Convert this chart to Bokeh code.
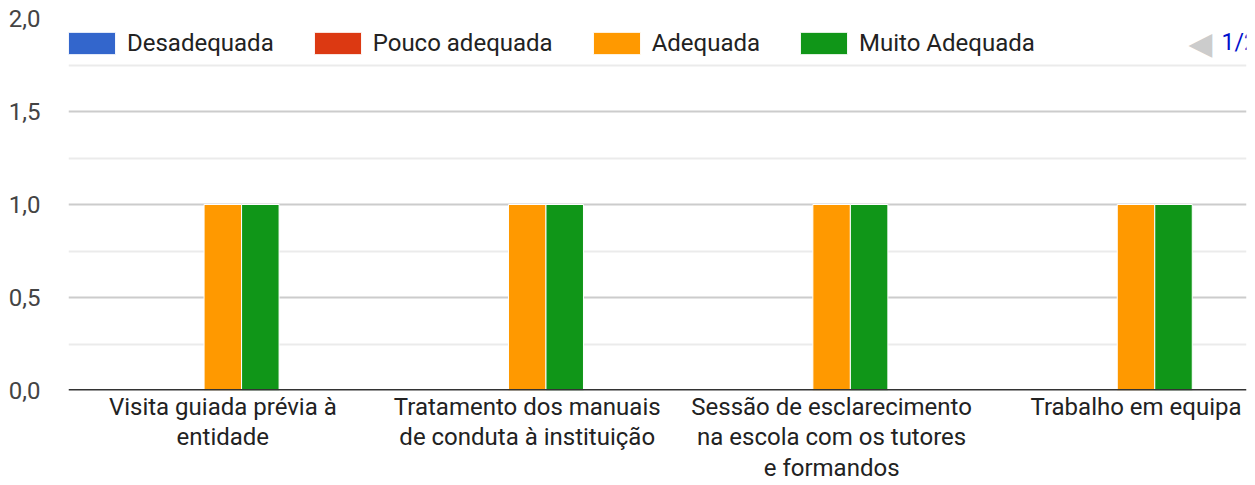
from bokeh.plotting import figure
from bokeh.models import (ColumnDataSource, Range1d, FixedTicker, Span, Legend,
                          LegendItem, Label)
from bokeh.transform import dodge
from bokeh.embed import file_html
from bokeh.resources import INLINE

# ---- data -------------------------------------------------------------
categories = [
    "Visita guiada prévia à\nentidade",
    "Tratamento dos manuais\nde conduta à instituição",
    "Sessão de esclarecimento\nna escola com os tutores\ne formandos",
    "Trabalho em equipa",
]
series_names = ["Desadequada", "Pouco adequada", "Adequada", "Muito Adequada"]
series_colors = ["#3366cc", "#dc3912", "#ff9900", "#109618"]
desadequada = [0, 0, 0, 0]
pouco_adequada = [0, 0, 0, 0]
adequada = [1, 1, 1, 1]
muito_adequada = [1, 1, 1, 1]
y_ticks = [0.0, 0.5, 1.0, 1.5, 2.0]
y_minor = [0.25, 0.75, 1.25, 1.75]

series_values = [desadequada, pouco_adequada, adequada, muito_adequada]

FONT = "Roboto"
n_slots = 5          # legend has a 2nd page: 5 bar slots per group
bar_w = 0.1232

src = ColumnDataSource(dict(
    x=list(range(len(categories))),
    **{f"s{i}": v for i, v in enumerate(series_values)}
))

p = figure(width=1255, height=485, output_backend="svg", toolbar_location=None,
           x_range=Range1d(-0.507, 3.363), y_range=Range1d(0, 2),
           min_border_left=68, min_border_right=9, min_border_top=18,
           min_border_bottom=95)
p.outline_line_color = None
p.background_fill_color = "white"

renderers = []
for i, (name, col) in enumerate(zip(series_names, series_colors)):
    off = (i - (n_slots - 1) / 2) * bar_w
    r = p.vbar(x=dodge("x", off, range=p.x_range), top=f"s{i}", width=bar_w,
               source=src, fill_color=col, line_color="white", line_width=1)
    renderers.append(r)

# y axis
p.yaxis.ticker = FixedTicker(ticks=y_ticks, minor_ticks=y_minor)
p.yaxis.major_label_overrides = {t: f"{t:.1f}".replace(".", ",") for t in y_ticks}
p.yaxis.axis_line_color = None
p.yaxis.major_tick_line_color = None
p.yaxis.minor_tick_line_color = None
p.yaxis.major_label_text_font = FONT
p.yaxis.major_label_text_font_size = "24px"
p.yaxis.major_label_text_color = "#444444"
p.yaxis.major_label_standoff = 22

p.ygrid.ticker = FixedTicker(ticks=y_ticks, minor_ticks=y_minor)
p.ygrid.grid_line_color = "#cccccc"
p.ygrid.grid_line_width = 2
p.ygrid.minor_grid_line_color = "#ebebeb"
p.ygrid.minor_grid_line_width = 2
p.xgrid.grid_line_color = None

# x axis
p.xaxis.ticker = FixedTicker(ticks=list(range(len(categories))))
p.xaxis.major_label_overrides = {i: c for i, c in enumerate(categories)}
p.xaxis.axis_line_color = None
p.xaxis.major_tick_line_color = None
p.xaxis.minor_tick_line_color = None
p.xaxis.major_label_text_font = FONT
p.xaxis.major_label_text_font_size = "24px"
p.xaxis.major_label_text_color = "#222222"
p.xaxis.major_label_text_line_height = 1.1
p.xaxis.major_label_standoff = -4

p.add_layout(Span(location=0, dimension="width", line_color="#333333", line_width=3))

legend = Legend(items=[LegendItem(label=n, renderers=[r]) for n, r in zip(series_names, renderers)],
                orientation="horizontal", location=(-6, 333), padding=0, margin=0,
                spacing=34, label_standoff=6, glyph_width=59, glyph_height=28,
                label_text_font=FONT, label_text_font_size="24px",
                label_text_color="#222222", border_line_color=None,
                background_fill_alpha=0)
p.add_layout(legend, "center")

p.add_layout(Label(x=1120, y=348, x_units="screen", y_units="screen", text="◀",
                   text_font="DejaVu Sans", text_font_size="31px", text_color="#cccccc",
                   text_baseline="middle"))
p.add_layout(Label(x=1153, y=348, x_units="screen", y_units="screen", text="1/2",
                   text_font=FONT, text_font_size="23px", text_color="#0011cc",
                   text_baseline="middle"))

open("out.html", "w").write(file_html(p, INLINE))
